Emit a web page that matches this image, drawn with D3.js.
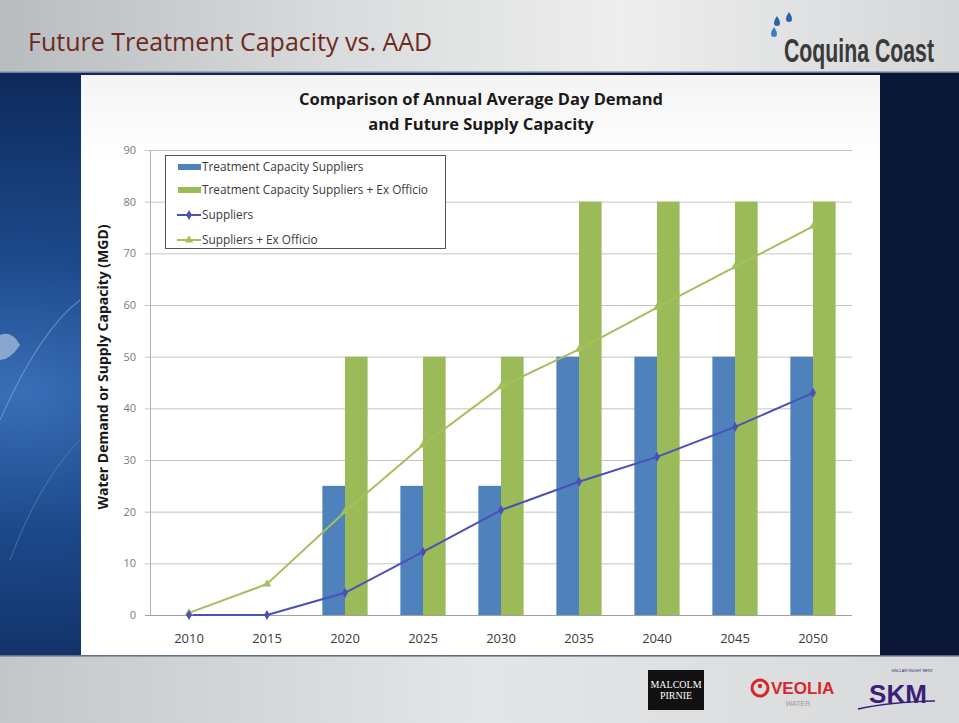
<!DOCTYPE html>
<html><head><meta charset="utf-8">
<script src="https://cdn.jsdelivr.net/npm/d3@7"></script>
<style>html,body{margin:0;padding:0;background:#fff;}svg{display:block;}</style>
</head><body>
<svg id="c" width="959" height="723"></svg>
<script>
const years = ["2010","2015","2020","2025","2030","2035","2040","2045","2050"];
const capSuppliers = [0, 0, 25, 25, 25, 50, 50, 50, 50];
const capSuppliersExOfficio = [0, 0, 50, 50, 50, 80, 80, 80, 80];
const demandSuppliers = [0, 0, 4.3, 12.2, 20.3, 25.8, 30.6, 36.4, 43.0];
const demandSuppliersExOfficio = [0.4, 6.0, 20.0, 32.9, 44.2, 51.4, 59.5, 67.4, 75.2];
const yTicks = [0,10,20,30,40,50,60,70,80,90];
const seriesNames = ["Treatment Capacity Suppliers","Treatment Capacity Suppliers + Ex Officio","Suppliers","Suppliers + Ex Officio"];

const svg = d3.select("#c");
const defs = svg.append("defs");

const hg = defs.append("linearGradient").attr("id","hdr").attr("x1","0").attr("x2","1").attr("y1","0").attr("y2","0");
hg.append("stop").attr("offset","0").attr("stop-color","#b9bcbf");
hg.append("stop").attr("offset","0.35").attr("stop-color","#d9dbdc");
hg.append("stop").attr("offset","0.65").attr("stop-color","#eeeeee");
hg.append("stop").attr("offset","1").attr("stop-color","#d4d6d8");
const fg = defs.append("linearGradient").attr("id","ftr").attr("x1","0").attr("x2","1").attr("y1","0").attr("y2","0");
fg.append("stop").attr("offset","0").attr("stop-color","#c4c6c8");
fg.append("stop").attr("offset","0.5").attr("stop-color","#e4e5e6");
fg.append("stop").attr("offset","1").attr("stop-color","#d8d9da");
const bg = defs.append("radialGradient").attr("id","globe").attr("cx","0.02").attr("cy","0.55").attr("r","0.9");
bg.append("stop").attr("offset","0").attr("stop-color","#3a6fb8");
bg.append("stop").attr("offset","0.25").attr("stop-color","#1d4a8c");
bg.append("stop").attr("offset","0.6").attr("stop-color","#0e2a5c");
bg.append("stop").attr("offset","1").attr("stop-color","#081633");
const pg = defs.append("linearGradient").attr("id","panel").attr("x1","0").attr("x2","0").attr("y1","0").attr("y2","1");
pg.append("stop").attr("offset","0").attr("stop-color","#f4f4f4");
pg.append("stop").attr("offset","0.15").attr("stop-color","#ffffff");
pg.append("stop").attr("offset","1").attr("stop-color","#ffffff");

svg.append("rect").attr("x",0).attr("y",70).attr("width",959).attr("height",588).attr("fill","url(#globe)");
svg.append("rect").attr("x",880).attr("y",70).attr("width",79).attr("height",588).attr("fill","#0a1736");
svg.append("path").attr("d","M0,420 Q40,330 80,300").attr("stroke","#7fa8dd").attr("stroke-width",1.2).attr("fill","none").attr("opacity",0.6);
svg.append("path").attr("d","M10,560 Q40,480 80,440").attr("stroke","#6f98d0").attr("stroke-width",1).attr("fill","none").attr("opacity",0.5);
svg.append("path").attr("d","M0,335 Q12,330 20,345 Q10,360 0,360 Z").attr("fill","#9fb8d8").attr("opacity",0.8);
svg.append("rect").attr("x",0).attr("y",0).attr("width",959).attr("height",72).attr("fill","url(#hdr)");
svg.append("line").attr("x1",0).attr("x2",959).attr("y1",72).attr("y2",72).attr("stroke","#8a9bb5").attr("stroke-width",1.5);
svg.append("rect").attr("x",0).attr("y",656).attr("width",959).attr("height",67).attr("fill","url(#ftr)");
svg.append("line").attr("x1",0).attr("x2",959).attr("y1",656).attr("y2",656).attr("stroke","#7d8796").attr("stroke-width",1.5);

svg.append("text").attr("x",28).attr("y",51).text("Future Treatment Capacity vs. AAD")
  .attr("font-family","Open Sans, Liberation Sans, sans-serif").attr("font-size",25).attr("fill","#6e2a1f");

// Coquina Coast logo (condensed via horizontal scale)
const logo = svg.append("text").attr("text-anchor","start").text("Coquina Coast")
  .attr("font-family","Liberation Sans, sans-serif").attr("font-weight","bold")
  .attr("font-size",31).attr("fill","#3a3a3a");
const lw = logo.node().getComputedTextLength();
const sx = 150/lw;
logo.attr("transform",`translate(784,62) scale(${sx},1.05)`);
[[777,22],[789,18],[774,33]].forEach(([x,y],i)=>{
  svg.append("path").attr("d",`M${x},${y-6} q3,4 3,7 a3,3 0 0 1 -6,0 q0,-3 3,-7z`).attr("fill",i==2?"#3d7fc1":"#2a63a8");
});

// footer logos
svg.append("rect").attr("x",648).attr("y",670).attr("width",56).attr("height",40).attr("fill","#111");
svg.append("text").attr("x",676).attr("y",688).attr("text-anchor","middle").text("MALCOLM")
  .attr("font-family","Liberation Serif, serif").attr("font-size",10).attr("fill","#fff");
svg.append("text").attr("x",676).attr("y",699).attr("text-anchor","middle").text("PIRNIE")
  .attr("font-family","Liberation Serif, serif").attr("font-size",10).attr("fill","#fff");
svg.append("circle").attr("cx",760).attr("cy",688).attr("r",8).attr("fill","none").attr("stroke","#d9262c").attr("stroke-width",3);
svg.append("circle").attr("cx",760).attr("cy",686).attr("r",2.2).attr("fill","#d9262c");
svg.append("text").attr("x",771).attr("y",694).text("VEOLIA")
  .attr("font-family","Liberation Sans, sans-serif").attr("font-weight","bold").attr("font-size",17).attr("fill","#d9262c");
svg.append("text").attr("x",798).attr("y",706).attr("text-anchor","middle").text("WATER")
  .attr("font-family","Liberation Sans, sans-serif").attr("font-size",7).attr("fill","#999");
svg.append("text").attr("x",898).attr("y",703).attr("text-anchor","middle").text("SKM")
  .attr("font-family","Liberation Sans, sans-serif").attr("font-weight","bold").attr("font-size",26).attr("fill","#3a1f7a");
svg.append("path").attr("d","M858,709 Q890,702 935,701").attr("stroke","#3a1f7a").attr("stroke-width",1.5).attr("fill","none");
svg.append("text").attr("x",912).attr("y",672).attr("text-anchor","middle").text("SINCLAIR KNIGHT MERZ")
  .attr("font-family","Liberation Sans, sans-serif").attr("font-size",3.5).attr("fill","#3a1f7a");

svg.append("rect").attr("x",81).attr("y",75).attr("width",799).attr("height",580).attr("fill","url(#panel)");

const m = {left:150, right:852, top:150, bottom:615};
const x = d3.scaleBand().domain(years).range([m.left, m.right]).paddingInner(0).paddingOuter(0);
const y = d3.scaleLinear().domain([0,90]).range([m.bottom, m.top]);
const bw = x.bandwidth()*0.29;

const ct = svg.append("text").attr("text-anchor","middle").attr("font-family","Open Sans, Liberation Sans, sans-serif")
  .attr("font-weight","bold").attr("font-size",16.5).attr("fill","#1a1a1a");
ct.append("tspan").attr("x",481).attr("y",105).text("Comparison of Annual Average Day Demand");
ct.append("tspan").attr("x",481).attr("y",130).text("and Future Supply Capacity");

svg.append("g").selectAll("line").data(yTicks).join("line")
  .attr("x1",m.left-5).attr("x2",m.right).attr("y1",d=>y(d)+0.5).attr("y2",d=>y(d)+0.5)
  .attr("stroke",d=>d===0?"#a0a0a0":"#c4c4c4").attr("stroke-width",1);
svg.append("line").attr("x1",m.left+0.5).attr("x2",m.left+0.5).attr("y1",m.top).attr("y2",m.bottom)
  .attr("stroke","#b0b0b0");

const yAxis = d3.axisLeft(y).tickValues(yTicks).tickSize(0).tickPadding(14);
const ga = svg.append("g").attr("transform",`translate(${m.left},0)`).call(yAxis);
ga.select(".domain").remove();
ga.selectAll("text").attr("font-family","Open Sans, Liberation Sans, sans-serif").attr("font-size",11).attr("fill","#7a7a7a");

const xAxis = d3.axisBottom(x).tickSize(0).tickPadding(19);
const gx = svg.append("g").attr("transform",`translate(0,${m.bottom})`).call(xAxis);
gx.select(".domain").remove();
gx.selectAll("text").attr("font-family","Open Sans, Liberation Sans, sans-serif").attr("font-size",13).attr("fill","#3a3a3a");

svg.append("text").attr("transform",`translate(108,367) rotate(-90)`).attr("text-anchor","middle")
  .text("Water Demand or Supply Capacity (MGD)")
  .attr("font-family","Open Sans, Liberation Sans, sans-serif").attr("font-weight","bold").attr("font-size",14).attr("fill","#1a1a1a");

const blue="#4f81bd", green="#9bbb59", lineBlue="#4b4fb8", lineGreen="#a4c05c";
const cx = d=>x(d)+x.bandwidth()/2;

svg.append("g").selectAll("rect").data(years.map((d,i)=>({d,v:capSuppliers[i]}))).join("rect")
  .attr("x",o=>cx(o.d)-bw).attr("width",bw).attr("y",o=>y(o.v)).attr("height",o=>y(0)-y(o.v)).attr("fill",blue);
svg.append("g").selectAll("rect").data(years.map((d,i)=>({d,v:capSuppliersExOfficio[i]}))).join("rect")
  .attr("x",o=>cx(o.d)).attr("width",bw).attr("y",o=>y(o.v)).attr("height",o=>y(0)-y(o.v)).attr("fill",green);

const line = d3.line().x(o=>cx(o.d)).y(o=>y(o.v));
const dS = years.map((d,i)=>({d,v:demandSuppliers[i]}));
const dE = years.map((d,i)=>({d,v:demandSuppliersExOfficio[i]}));
svg.append("path").datum(dE).attr("d",line).attr("fill","none").attr("stroke",lineGreen).attr("stroke-width",2);
svg.append("path").datum(dS).attr("d",line).attr("fill","none").attr("stroke",lineBlue).attr("stroke-width",2);
const diamond = d3.symbol().type(d3.symbolDiamond).size(30);
const tri = d3.symbol().type(d3.symbolTriangle).size(30);
svg.append("g").selectAll("path").data(dE).join("path").attr("d",tri)
  .attr("transform",o=>`translate(${cx(o.d)},${y(o.v)})`).attr("fill",lineGreen);
svg.append("g").selectAll("path").data(dS).join("path").attr("d",diamond)
  .attr("transform",o=>`translate(${cx(o.d)},${y(o.v)})`).attr("fill",lineBlue);

const lg = svg.append("g");
lg.append("rect").attr("x",165.5).attr("y",155.5).attr("width",280).attr("height",93).attr("fill","#fff").attr("stroke","#555").attr("stroke-width",1);
const rows = [167,190,215,240];
seriesNames.forEach((n,i)=>{
  const ry = rows[i];
  if(i<2){
    lg.append("rect").attr("x",178).attr("y",ry-3).attr("width",23).attr("height",6).attr("fill",i===0?blue:green);
  } else {
    const c = i===2?lineBlue:lineGreen;
    lg.append("line").attr("x1",177).attr("x2",201).attr("y1",ry).attr("y2",ry).attr("stroke",c).attr("stroke-width",2);
    lg.append("path").attr("d",i===2?diamond:tri).attr("transform",`translate(189,${ry})`).attr("fill",c);
  }
  lg.append("text").attr("x",202).attr("y",ry+4).text(n)
    .attr("font-family","Open Sans, Liberation Sans, sans-serif").attr("font-size",11.8).attr("fill","#3a3a3a");
});
</script>
</body></html>
